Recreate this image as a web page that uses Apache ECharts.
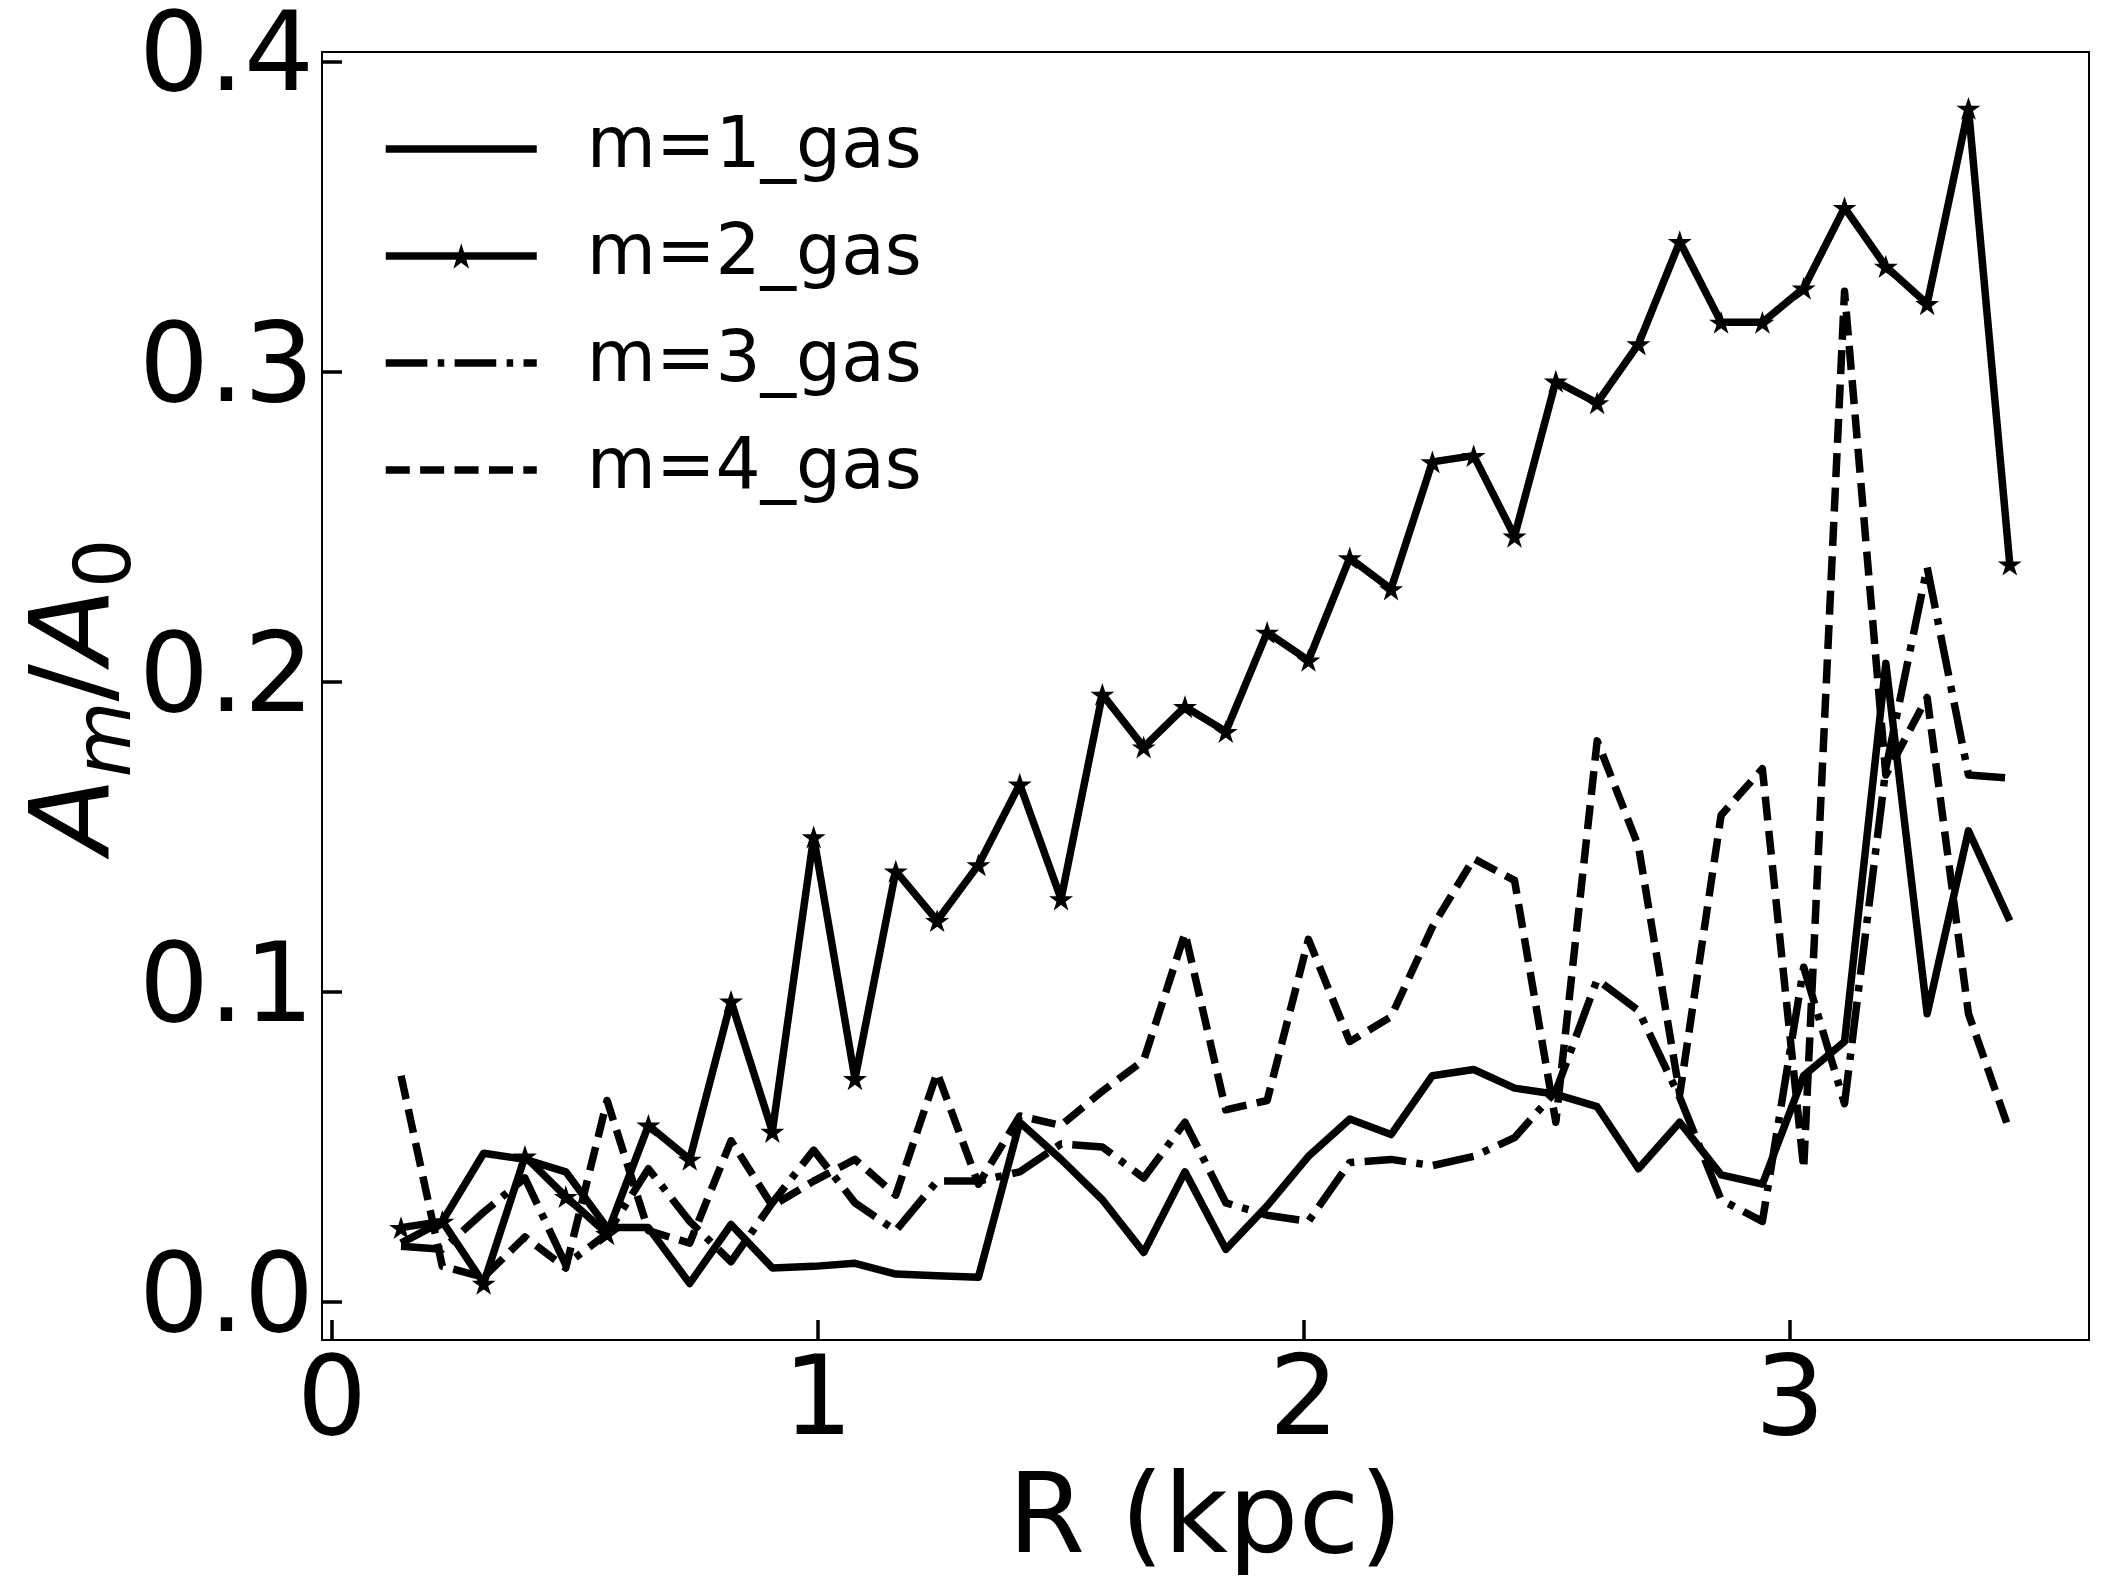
<!DOCTYPE html>
<html>
<head>
<meta charset="utf-8">
<script src="https://cdn.jsdelivr.net/npm/echarts@6/dist/echarts.min.js"></script>
<style>
  html, body { margin: 0; padding: 0; background: #fff; }
  #chart { width: 2109px; height: 1596px; }
</style>
</head>
<body>
<div id="chart"></div>
<script>
// Radius bins (kpc)
const R = [0.142, 0.227, 0.312, 0.397, 0.481, 0.566, 0.651, 0.736, 0.821, 0.906,
           0.991, 1.076, 1.160, 1.245, 1.330, 1.415, 1.500, 1.585, 1.670, 1.755,
           1.839, 1.924, 2.009, 2.094, 2.179, 2.264, 2.349, 2.433, 2.518, 2.603,
           2.688, 2.773, 2.858, 2.943, 3.028, 3.112, 3.197, 3.282, 3.367, 3.452];

const m1 = [0.019, 0.026, 0.048, 0.046, 0.042, 0.024, 0.024, 0.006, 0.025, 0.011,
            0.0115, 0.0125, 0.009, 0.0085, 0.008, 0.058, 0.046, 0.033, 0.016, 0.042,
            0.017, 0.031, 0.047, 0.059, 0.054, 0.073, 0.075, 0.069, 0.067, 0.063,
            0.043, 0.058, 0.041, 0.038, 0.073, 0.084, 0.206, 0.093, 0.152, 0.123];

const m2 = [0.024, 0.026, 0.006, 0.047, 0.034, 0.022, 0.057, 0.046, 0.097, 0.055,
            0.150, 0.072, 0.139, 0.123, 0.141, 0.167, 0.130, 0.196, 0.179, 0.192,
            0.184, 0.216, 0.207, 0.240, 0.230, 0.271, 0.273, 0.247, 0.297, 0.290,
            0.309, 0.342, 0.316, 0.316, 0.327, 0.353, 0.334, 0.322, 0.385, 0.238];

const m3 = [0.018, 0.017, 0.029, 0.040, 0.012, 0.022, 0.043, 0.026, 0.013, 0.032,
            0.049, 0.032, 0.023, 0.039, 0.039, 0.042, 0.051, 0.050, 0.040, 0.058,
            0.032, 0.028, 0.026, 0.045, 0.046, 0.044, 0.047, 0.053, 0.068, 0.104,
            0.094, 0.066, 0.033, 0.026, 0.108, 0.064, 0.172, 0.237, 0.170, 0.169];

const m4 = [0.073, 0.0115, 0.008, 0.021, 0.011, 0.065, 0.023, 0.019, 0.052, 0.031,
            0.039, 0.046, 0.0345, 0.074, 0.038, 0.060, 0.057, 0.068, 0.078, 0.119,
            0.062, 0.065, 0.117, 0.084, 0.092, 0.121, 0.143, 0.136, 0.058, 0.181,
            0.147, 0.067, 0.157, 0.172, 0.043, 0.326, 0.170, 0.195, 0.093, 0.055];

const seriesNames = ['m=1_gas', 'm=2_gas', 'm=3_gas', 'm=4_gas'];
const xTicks = [0, 1, 2, 3];
const yTicks = [0.0, 0.1, 0.2, 0.3, 0.4];

const FONT = 'DejaVu Sans';
const LW = 7.5;
const STAR = 'path://M0,-1 L0.2245,-0.309 L0.951,-0.309 L0.363,0.118 L0.588,0.809 L0,0.382 L-0.588,0.809 L-0.363,0.118 L-0.951,-0.309 L-0.2245,-0.309 Z';

function pairs(ys) { return R.map((r, i) => [r, ys[i]]); }

function lineSeries(name, ys, dash, withStar) {
  return {
    name: name,
    type: 'line',
    data: pairs(ys),
    symbol: withStar ? STAR : 'none',
    symbolSize: 24,
    symbolKeepAspect: true,
    showSymbol: !!withStar,
    itemStyle: { color: '#000' },
    lineStyle: { color: '#000', width: LW, type: dash, cap: 'butt', join: 'round' },
    emphasis: { disabled: true },
    animation: false
  };
}

const hidden = { color: 'rgba(0,0,0,0)', borderWidth: 0, opacity: 0 };

const chart = echarts.init(document.getElementById('chart'), null, { renderer: 'canvas' });

chart.setOption({
  backgroundColor: '#fff',
  animation: false,
  textStyle: { fontFamily: FONT, color: '#000' },
  grid: {
    left: 322, right: 20, top: 52, bottom: 256,
    containLabel: false,
    outerBoundsMode: 'none',
    show: true, borderColor: '#000', borderWidth: 2, backgroundColor: 'transparent'
  },
  legend: {
    orient: 'vertical',
    left: 382, top: 109,
    padding: 0,
    itemWidth: 151,
    itemHeight: 32,
    itemGap: 27,
    data: [
      { name: seriesNames[0], itemStyle: hidden },
      { name: seriesNames[1] },
      { name: seriesNames[2], itemStyle: hidden },
      { name: seriesNames[3], itemStyle: hidden }
    ],
    textStyle: { fontFamily: FONT, fontSize: 71, color: '#000', lineHeight: 80, padding: [0, 0, 0, 45] },
    lineStyle: { width: LW },
    selectedMode: false
  },
  xAxis: {
    type: 'value',
    min: -0.0206, max: 3.615,
    axisLine: { show: false, onZero: false },
    splitLine: { show: false },
    axisTick: { show: true, inside: true, length: 20, lineStyle: { color: '#000', width: 3.5 }, customValues: xTicks },
    axisLabel: { customValues: xTicks, fontFamily: FONT, fontSize: 110, color: '#000', margin: 10,
                 formatter: v => String(Math.round(v)) },
    name: 'R (kpc)',
    nameLocation: 'middle',
    nameGap: 128,
    nameMoveOverlap: false,
    nameTextStyle: { fontFamily: FONT, fontSize: 111, color: '#000' }
  },
  yAxis: {
    type: 'value',
    min: -0.01225, max: 0.4032,
    axisLine: { show: false, onZero: false },
    splitLine: { show: false },
    axisTick: { show: true, inside: true, length: 20, lineStyle: { color: '#000', width: 3.5 }, customValues: yTicks },
    axisLabel: { customValues: yTicks, fontFamily: FONT, fontSize: 110, color: '#000', margin: 8,
                 formatter: v => v.toFixed(1) },
    name: '{a|A}{s|m}{b|/}{a|A}{z|0}',
    nameLocation: 'middle',
    nameGap: 173,
    nameRotate: 90,
    nameMoveOverlap: false,
    nameTextStyle: {
      fontFamily: FONT, color: '#000',
      rich: {
        a: { fontFamily: FONT, fontStyle: 'italic', fontSize: 111, lineHeight: 111, verticalAlign: 'bottom', padding: [0, 0, 13, 0] },
        b: { fontFamily: FONT, fontSize: 111, lineHeight: 111, verticalAlign: 'bottom', padding: [0, 0, 13, 0] },
        s: { fontFamily: FONT, fontStyle: 'italic', fontSize: 78, lineHeight: 78, verticalAlign: 'bottom' },
        z: { fontFamily: FONT, fontSize: 78, lineHeight: 78, verticalAlign: 'bottom' }
      }
    }
  },
  series: [
    lineSeries(seriesNames[0], m1, 'solid', false),
    lineSeries(seriesNames[1], m2, 'solid', true),
    lineSeries(seriesNames[2], m3, [41.6, 10.4, 6.5, 10.4], false),
    lineSeries(seriesNames[3], m4, [24, 10.4], false)
  ]
});
</script>
</body>
</html>
